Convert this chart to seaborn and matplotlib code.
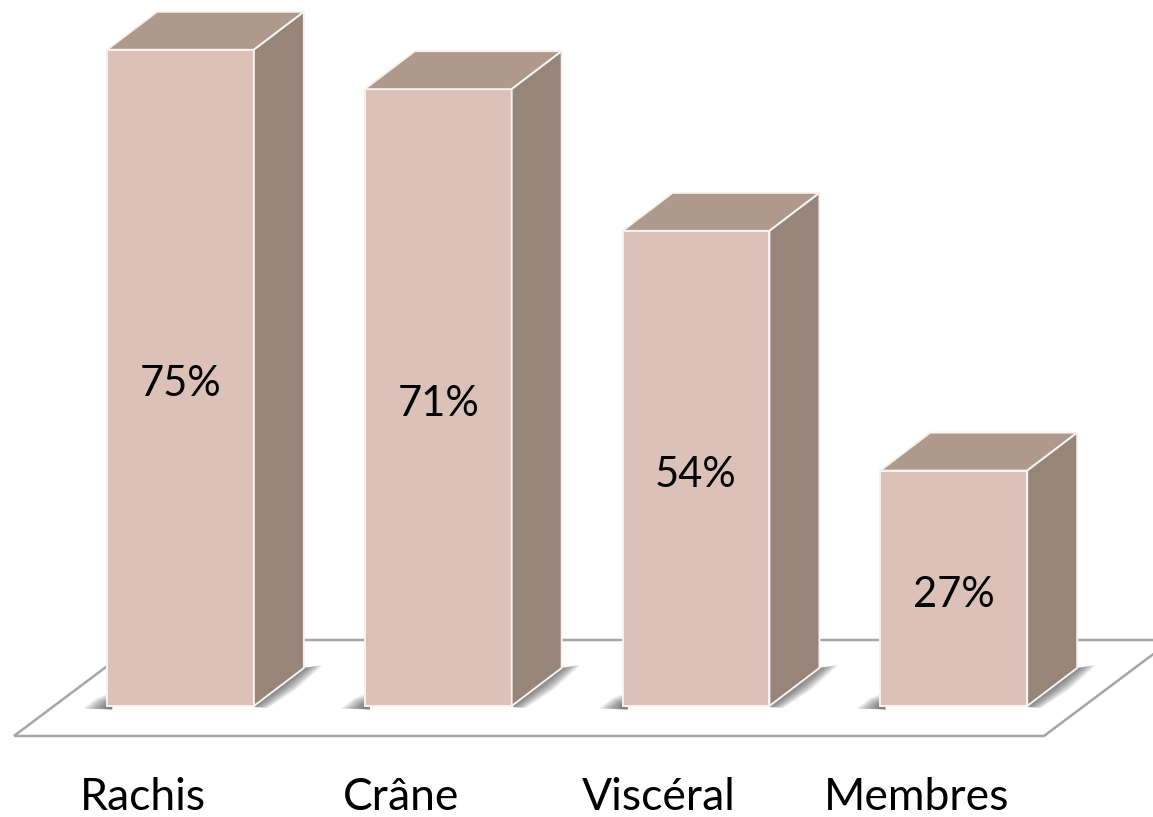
import matplotlib
matplotlib.use("Agg")
import matplotlib.pyplot as plt
import pandas as pd
import seaborn as sns
from matplotlib.patches import Polygon

categories = ["Rachis", "Crâne", "Viscéral", "Membres"]
values = [75, 70.5, 54.3, 26.9]   # bar heights as drawn in the picture
value_labels = ["75%", "71%", "54%", "27%"]

FRONT, TOP, SIDE = "#DCC1B9", "#AF998C", "#98857A"
FLOOR = "#A6A6A6"
EDGE = "#F6F2F0"

sns.set_theme(style="white")
plt.rcParams["font.family"] = ["Lato", "DejaVu Sans"]

fig = plt.figure(figsize=(11.53, 8.17), dpi=100)
ax = fig.add_axes([0, 0, 1, 1])

df = pd.DataFrame({"cat": categories, "val": values})
sns.barplot(data=df, x="cat", y="val", color=FRONT, saturation=1, width=0.57,
            edgecolor=EDGE, linewidth=1.4, ax=ax, zorder=3)

ax.set_xlim(-0.700, 3.773)
ax.set_ylim(-12.69, 80.69)
ax.axis("off")

DX, DY = 50 / 257.75, 38 / 8.75   # depth offset of the 3D look

# floor outline, behind everything
fx0, fx1 = -0.646, 3.350
fy0, fy1 = -3.43, 7.54
ax.add_patch(Polygon([(fx0, fy0), (fx1, fy0), (fx1 + 0.497, fy1), (fx0 + 0.497, fy1)],
                     closed=True, fill=False, edgecolor=FLOOR, linewidth=1.8,
                     zorder=1, clip_on=True))

for patch, label, v in zip(list(ax.patches)[:4], value_labels, values):
    x0 = patch.get_x()
    x1 = x0 + patch.get_width()
    h = patch.get_height()

    # soft contact shadow, layered translucent polygons
    n = 20
    for k in range(1, n + 1):
        t = k / n
        ax.add_patch(Polygon([(x0 - 0.095 * t, -0.3), (x0 + 0.02, -0.4),
                              (x0 + 0.02, 0.3 + 1.3 * t), (x0 - 0.04 * t, 0.9 * t)],
                             closed=True, fc="#4A4A4A", ec="none", alpha=0.05, zorder=2))
        ax.add_patch(Polygon([(x1 - 0.01, -0.1), (x1 + DX, DY),
                              (x1 + DX + 0.075 * t, DY + 0.35 * t),
                              (x1 + DX * 0.55 + 0.06 * t, DY * 0.55 - 0.45 * t),
                              (x1 + 0.055 * t, -0.25 * t)],
                             closed=True, fc="#4A4A4A", ec="none", alpha=0.05, zorder=2))

    # top face and side face
    ax.add_patch(Polygon([(x0, h), (x1, h), (x1 + DX, h + DY), (x0 + DX, h + DY)],
                         closed=True, fc=TOP, ec=EDGE, lw=1.4, zorder=3))
    ax.add_patch(Polygon([(x1, 0), (x1 + DX, DY), (x1 + DX, h + DY), (x1, h)],
                         closed=True, fc=SIDE, ec=EDGE, lw=1.4, zorder=3))

    ax.text(x0 + patch.get_width() / 2, v / 2 - 0.75, label, ha="center", va="center",
            fontsize=30, color="black", zorder=5)

for i, c in enumerate(categories):
    ax.text(i - 0.145, -10.45, c, ha="center", va="center", fontsize=32, color="black", zorder=5)

fig.savefig("out.png", dpi=100)
